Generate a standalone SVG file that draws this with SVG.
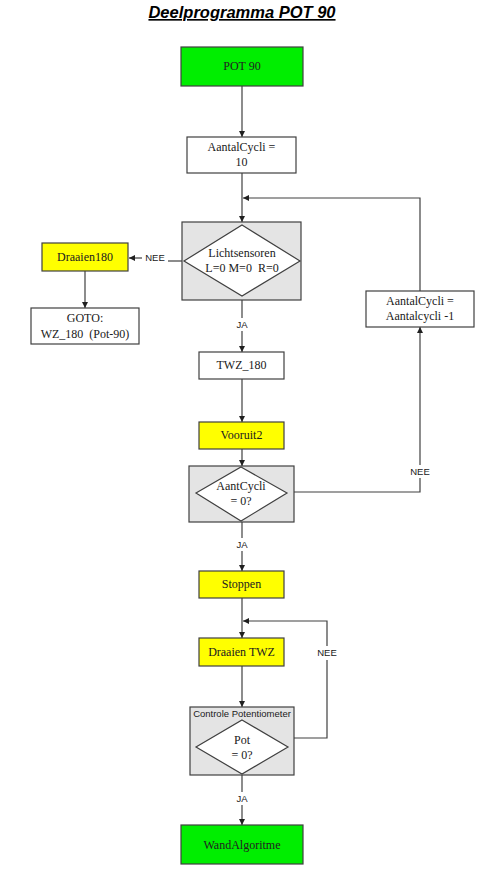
<svg xmlns="http://www.w3.org/2000/svg" width="500" height="871" viewBox="0 0 500 871">
<style>
.box{stroke:#404040;stroke-width:1.2}
.w{fill:#fff}.g{fill:#00ee00}.y{fill:#ffff00}.gr{fill:#e4e4e4}
.t{font-family:"Liberation Serif",serif;font-size:12px;fill:#202020;text-anchor:middle}
.s{font-family:"Liberation Sans",sans-serif;font-size:9.5px;fill:#202020;text-anchor:middle}
.ln{fill:none;stroke:#404040;stroke-width:1.2}
</style>
<defs>
<marker id="a" viewBox="0 0 10 10" refX="10" refY="5" markerWidth="6" markerHeight="6" orient="auto" markerUnits="userSpaceOnUse"><path d="M0,0L10,5L0,10z" fill="#202020"/></marker>
</defs>
<text x="242" y="18" font-family="Liberation Sans,sans-serif" font-size="16.5" font-weight="bold" font-style="italic" text-anchor="middle" text-decoration="underline" fill="#000">Deelprogramma POT 90</text>
<g id="connectors">
<path class="ln" d="M242,86V137" marker-end="url(#a)"/>
<path class="ln" d="M242,173V222" marker-end="url(#a)"/>
<path class="ln" d="M420,291V198H243" marker-end="url(#a)"/>
<path class="ln" d="M182,261H168"/>
<path class="ln" d="M142,258H129" marker-end="url(#a)"/>
<path class="ln" d="M85,271V308" marker-end="url(#a)"/>
<path class="ln" d="M242,300V318"/>
<path class="ln" d="M242,331V352" marker-end="url(#a)"/>
<path class="ln" d="M242,379V422" marker-end="url(#a)"/>
<path class="ln" d="M242,449V466" marker-end="url(#a)"/>
<path class="ln" d="M294,492H420V478"/>
<path class="ln" d="M420,465V327" marker-end="url(#a)"/>
<path class="ln" d="M242,522V538"/>
<path class="ln" d="M242,551V571" marker-end="url(#a)"/>
<path class="ln" d="M242,598V638" marker-end="url(#a)"/>
<path class="ln" d="M294,738H327V660"/>
<path class="ln" d="M327,646V621H243" marker-end="url(#a)"/>
<path class="ln" d="M242,666V707" marker-end="url(#a)"/>
<path class="ln" d="M242,775V792"/>
<path class="ln" d="M242,805V825" marker-end="url(#a)"/>
<text class="s" x="155" y="261">NEE</text>
<text class="s" x="242" y="328">JA</text>
<text class="s" x="420" y="475">NEE</text>
<text class="s" x="242" y="548">JA</text>
<text class="s" x="327" y="656">NEE</text>
<text class="s" x="242" y="802">JA</text>
</g>
<g id="pot90"><rect class="box g" x="181" y="47" width="122" height="39"/><text class="t" x="242" y="70">POT 90</text></g>
<g id="aantal10"><rect class="box w" x="187" y="137" width="109" height="36"/><text class="t" x="241.5" y="151">AantalCycli =</text><text class="t" x="241.5" y="166">10</text></g>
<g id="licht"><rect class="box gr" x="182" y="222" width="119" height="78"/><path class="box w" d="M242,225L300,261L242,296L184,261z"/><text class="t" x="242" y="257">Lichtsensoren</text><text class="t" x="242" y="272" xml:space="preserve">L=0 M=0  R=0</text></g>
<g id="draaien180"><rect class="box y" x="42" y="243" width="86" height="28"/><text class="t" x="85" y="261">Draaien180</text></g>
<g id="goto"><rect class="box w" x="31" y="308" width="108" height="36"/><text class="t" x="85" y="322">GOTO:</text><text class="t" x="85" y="338" xml:space="preserve">WZ_180  (Pot-90)</text></g>
<g id="twz180"><rect class="box w" x="199" y="352" width="85" height="27"/><text class="t" x="241.5" y="369">TWZ_180</text></g>
<g id="vooruit2"><rect class="box y" x="199" y="422" width="85" height="27"/><text class="t" x="241.5" y="439">Vooruit2</text></g>
<g id="aantcycli"><rect class="box gr" x="189" y="466" width="105" height="56"/><path class="box w" d="M241,467L287,493L241,521L196,493z"/><text class="t" x="241" y="490">AantCycli</text><text class="t" x="241" y="505">= 0?</text></g>
<g id="aantalmin1"><rect class="box w" x="366" y="291" width="108" height="36"/><text class="t" x="420" y="305">AantalCycli =</text><text class="t" x="420" y="320">Aantalcycli -1</text></g>
<g id="stoppen"><rect class="box y" x="199" y="571" width="85" height="27"/><text class="t" x="241.5" y="588">Stoppen</text></g>
<g id="draaientwz"><rect class="box y" x="199" y="638" width="85" height="28"/><text class="t" x="241.5" y="656">Draaien TWZ</text></g>
<g id="controle"><rect class="box gr" x="190" y="707" width="104" height="68"/><text class="s" x="242" y="717">Controle Potentiometer</text><path class="box w" d="M242,720L288,747L242,774L196,747z"/><text class="t" x="242" y="744">Pot</text><text class="t" x="242" y="759">= 0?</text></g>
<g id="wand"><rect class="box g" x="181" y="825" width="122" height="39"/><text class="t" x="242" y="849">WandAlgoritme</text></g>
</svg>
